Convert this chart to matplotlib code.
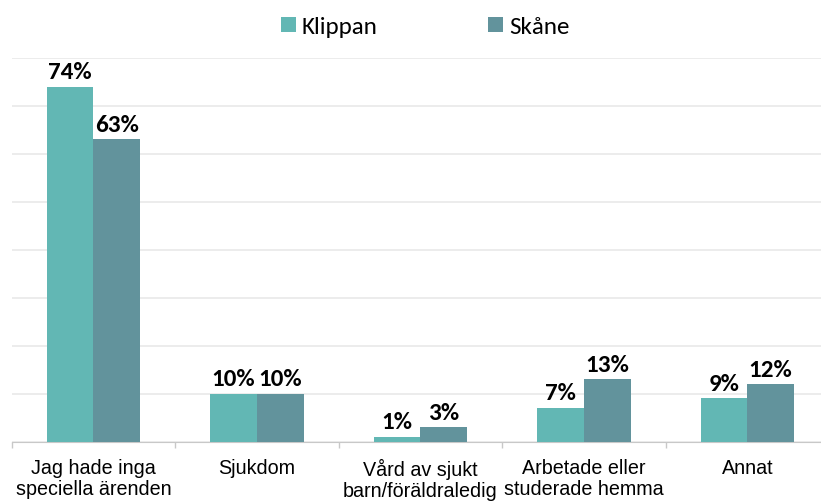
import matplotlib
matplotlib.use("Agg")
import matplotlib.pyplot as plt
import numpy as np
from matplotlib.ticker import MultipleLocator, FixedLocator

categories = ["Jag hade inga\nspeciella ärenden", "Sjukdom", "Vård av sjukt\nbarn/föräldraledig",
              "Arbetade eller\nstuderade hemma", "Annat"]
klippan = [74, 10, 1, 7, 9]
skane = [63, 10, 3, 13, 12]
series_names = ["Klippan", "Skåne"]
colors = ["#62b7b4", "#62939c"]

W, H = 821, 501
fig = plt.figure(figsize=(W/100, H/100), dpi=100)
left_px, right_px, bottom_px, top_px = 11.7, 829.0, 441.5, 58.0
ax = fig.add_axes([left_px/W, (H-bottom_px)/H, (right_px-left_px)/W, (bottom_px-top_px)/H])

x = np.arange(len(categories))
w = 0.286
b1 = ax.bar(x - w/2, klippan, w, color=colors[0], label=series_names[0], zorder=3)
b2 = ax.bar(x + w/2, skane, w, color=colors[1], label=series_names[1], zorder=3)

label_font = dict(family=["Carlito", "DejaVu Sans"], fontsize=18, fontweight="bold")
for bars, vals in ((b1, klippan), (b2, skane)):
    for r, v in zip(bars, vals):
        ax.annotate(f"{v}%", (r.get_x() + r.get_width()/2, v), xytext=(0, 2.5),
                    textcoords="offset points", ha="center", va="bottom", **label_font)

ax.set_xlim(-0.5, len(categories) - 0.5)
ax.set_ylim(0, 80)
ax.yaxis.set_major_locator(MultipleLocator(10))
ax.set_yticklabels([])
ax.tick_params(axis="y", length=0)
ax.grid(axis="y", color="#ebebeb", linewidth=1.3, zorder=0)
ax.set_axisbelow(True)

ax.set_xticks(x)
ax.set_xticklabels(categories, family=["Liberation Sans", "DejaVu Sans"],
                   fontsize=14.2, linespacing=1.15)
ax.tick_params(axis="x", which="major", length=0, pad=12.5)
ax.xaxis.set_minor_locator(FixedLocator(np.arange(-0.5, len(categories), 1.0)))
ax.tick_params(axis="x", which="minor", length=4.5, color="#c8c8c8", width=1)

for s in ("top", "right", "left"):
    ax.spines[s].set_visible(False)
ax.spines["bottom"].set_color("#c8c8c8")

leg = fig.legend(handles=[b1, b2], labels=series_names, loc="center",
                 bbox_to_anchor=(425/W, 1 - 27/H),
                 ncol=2, frameon=False, prop=dict(family=["Carlito", "DejaVu Sans"], size=18),
                 handlelength=0.6, handleheight=0.56, handletextpad=0.25, columnspacing=4.4,
                 borderpad=0, borderaxespad=0)

fig.savefig("out.png", dpi=100)
